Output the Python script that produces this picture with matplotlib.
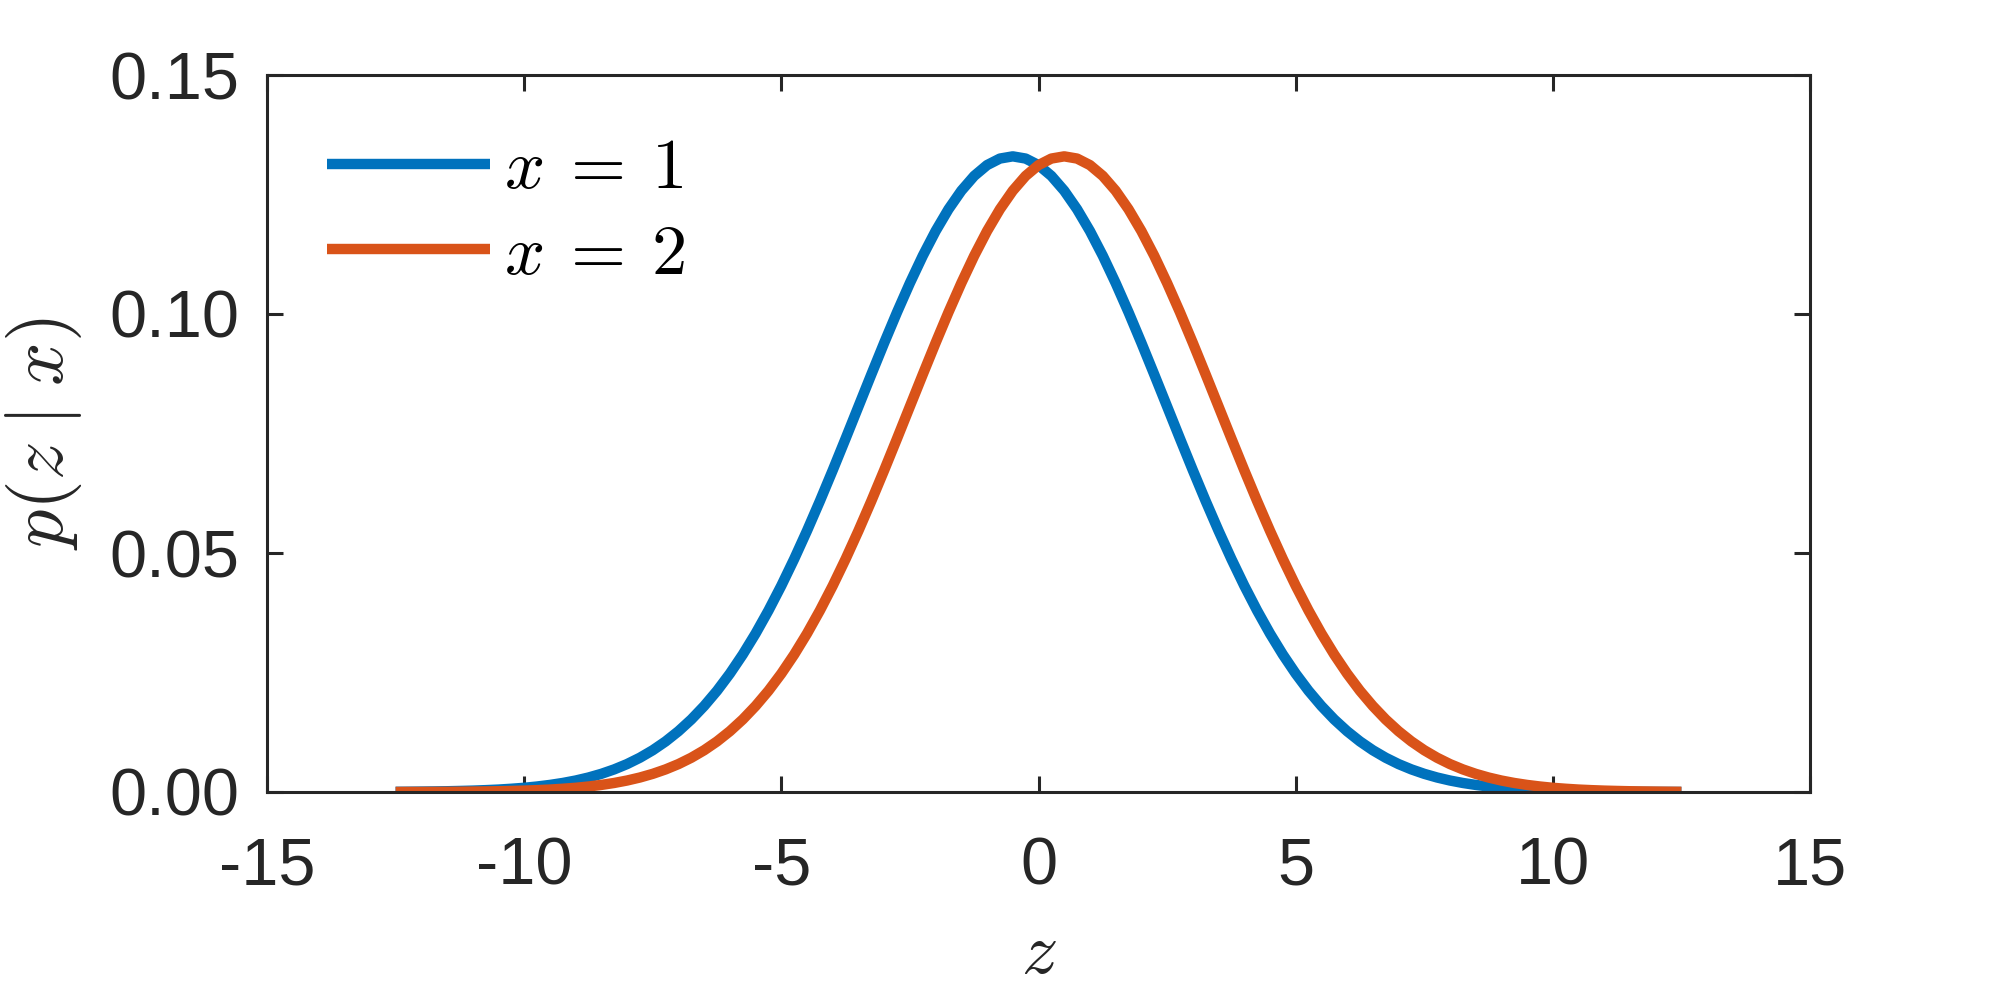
import matplotlib
matplotlib.use("Agg")
import matplotlib.pyplot as plt
from matplotlib.ticker import FormatStrFormatter

# valores (paso 0.25 en z, de -12.5 a 12.5)
z = [-12.5 + 0.25 * i for i in range(101)]

p_x1 = [0.00004, 0.00006, 0.00009, 0.00012, 0.00016, 0.00022, 0.00029, 0.00039,
        0.00051, 0.00068, 0.00088, 0.00115, 0.00148, 0.00189, 0.00240, 0.00303,
        0.00380, 0.00473, 0.00584, 0.00717, 0.00874, 0.01058, 0.01272, 0.01518,
        0.01800, 0.02118, 0.02477, 0.02876, 0.03316, 0.03797, 0.04317, 0.04875,
        0.05467, 0.06088, 0.06733, 0.07395, 0.08066, 0.08736, 0.09397, 0.10038,
        0.10648, 0.11218, 0.11736, 0.12192, 0.12579, 0.12889, 0.13115, 0.13252,
        0.13298,
        0.13252, 0.13115, 0.12889, 0.12579, 0.12192, 0.11736, 0.11218, 0.10648,
        0.10038, 0.09397, 0.08736, 0.08066, 0.07395, 0.06733, 0.06088, 0.05467,
        0.04875, 0.04317, 0.03797, 0.03316, 0.02876, 0.02477, 0.02118, 0.01800,
        0.01518, 0.01272, 0.01058, 0.00874, 0.00717, 0.00584, 0.00473, 0.00380,
        0.00303, 0.00240, 0.00189, 0.00148, 0.00115, 0.00088, 0.00068, 0.00051,
        0.00039, 0.00029, 0.00022, 0.00016, 0.00012, 0.00009, 0.00006, 0.00004,
        0.00003, 0.00002, 0.00002, 0.00001]

p_x2 = [0.00001, 0.00002, 0.00002, 0.00003,
        0.00004, 0.00006, 0.00009, 0.00012, 0.00016, 0.00022, 0.00029, 0.00039,
        0.00051, 0.00068, 0.00088, 0.00115, 0.00148, 0.00189, 0.00240, 0.00303,
        0.00380, 0.00473, 0.00584, 0.00717, 0.00874, 0.01058, 0.01272, 0.01518,
        0.01800, 0.02118, 0.02477, 0.02876, 0.03316, 0.03797, 0.04317, 0.04875,
        0.05467, 0.06088, 0.06733, 0.07395, 0.08066, 0.08736, 0.09397, 0.10038,
        0.10648, 0.11218, 0.11736, 0.12192, 0.12579, 0.12889, 0.13115, 0.13252,
        0.13298,
        0.13252, 0.13115, 0.12889, 0.12579, 0.12192, 0.11736, 0.11218, 0.10648,
        0.10038, 0.09397, 0.08736, 0.08066, 0.07395, 0.06733, 0.06088, 0.05467,
        0.04875, 0.04317, 0.03797, 0.03316, 0.02876, 0.02477, 0.02118, 0.01800,
        0.01518, 0.01272, 0.01058, 0.00874, 0.00717, 0.00584, 0.00473, 0.00380,
        0.00303, 0.00240, 0.00189, 0.00148, 0.00115, 0.00088, 0.00068, 0.00051,
        0.00039, 0.00029, 0.00022, 0.00016, 0.00012, 0.00009, 0.00006, 0.00004]

etiquetas = [r"$x\:=\:1$", r"$x\:=\:2$"]
colores = ["#0072BD", "#D95319"]

plt.rcParams["font.family"] = ["Liberation Sans", "DejaVu Sans"]
plt.rcParams["mathtext.fontset"] = "cm"
plt.rcParams["axes.unicode_minus"] = False

texto = "#262626"

fig = plt.figure(figsize=(20, 10), dpi=100)
ax = fig.add_axes([0.1335, 0.208, 0.7715, 0.717])

ax.plot(z, p_x1, color=colores[0], linewidth=7.5, label=etiquetas[0],
        solid_capstyle="butt", solid_joinstyle="round")
ax.plot(z, p_x2, color=colores[1], linewidth=7.5, label=etiquetas[1],
        solid_capstyle="butt", solid_joinstyle="round")

ax.set_xlim(-15, 15)
ax.set_ylim(0, 0.15)
ax.set_xticks([-15, -10, -5, 0, 5, 10, 15])
ax.set_yticks([0, 0.05, 0.10, 0.15])
ax.yaxis.set_major_formatter(FormatStrFormatter("%.2f"))

for s in ax.spines.values():
    s.set_linewidth(2.2)
    s.set_color(texto)

ax.tick_params(direction="in", length=11.5, width=2.2, color=texto,
               labelcolor=texto, labelsize=48, top=True, right=True)
ax.tick_params(axis="x", pad=32)
ax.tick_params(axis="y", pad=20)

ax.set_xlabel("$z$", fontsize=52, color=texto, labelpad=16)
ax.set_ylabel(r"$p(z\;|\;x)$", fontsize=55, color=texto, labelpad=18)

ax.legend(loc="upper left", bbox_to_anchor=(0.039, 0.913), frameon=False,
          fontsize=51, handlelength=2.3, handletextpad=0.2, labelspacing=0.28,
          borderpad=0, borderaxespad=0)

fig.savefig("out.png", dpi=100, facecolor="white")
